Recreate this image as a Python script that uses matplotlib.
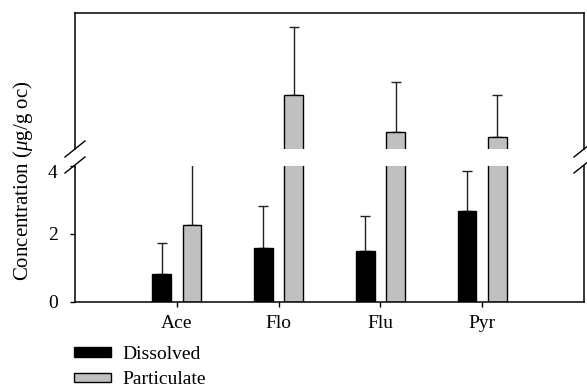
import numpy as np
import matplotlib.pyplot as plt
import matplotlib.transforms as mtransforms
from matplotlib.patches import Patch

plt.rcParams['font.family'] = ['Liberation Serif', 'DejaVu Serif']
plt.rcParams['mathtext.fontset'] = 'custom'
plt.rcParams['mathtext.it'] = 'Liberation Serif:italic'
plt.rcParams['mathtext.rm'] = 'Liberation Serif'

compounds = ['Ace', 'Flo', 'Flu', 'Pyr']
dissolved = [0.82, 1.58, 1.51, 2.69]
dissolved_err = [0.92, 1.25, 1.01, 1.17]
particulate = [2.26, 25.9, 15.1, 13.6]
particulate_err = [1.80, 20.0, 14.7, 12.4]

low_lim = (0, 4)
high_lim = (10, 50)

x = np.arange(1, len(compounds) + 1)
offset = 0.15
width = 0.185

fig = plt.figure(figsize=(5.87, 3.88), dpi=100)
left, right = 75 / 587, 584 / 587
ax_hi = fig.add_axes([left, 1 - 149 / 388, right - left, 136 / 388])
ax_lo = fig.add_axes([left, 1 - 302 / 388, right - left, 136 / 388])

for ax in (ax_hi, ax_lo):
    zeros = np.zeros(len(x))
    ax.errorbar(x - offset, dissolved, yerr=[zeros, dissolved_err], fmt='none',
                ecolor='#222222', elinewidth=1.0, capsize=3.6, capthick=1.0, zorder=1)
    ax.errorbar(x + offset, particulate, yerr=[zeros, particulate_err], fmt='none',
                ecolor='#222222', elinewidth=1.0, capsize=3.6, capthick=1.0, zorder=1)
    ax.bar(x - offset, dissolved, width, color='black', edgecolor='black',
           linewidth=1.0, zorder=2)
    ax.bar(x + offset, particulate, width, color='#c0c0c0', edgecolor='black',
           linewidth=1.0, zorder=2)
    ax.set_xlim(0, 5)
    for s in ax.spines.values():
        s.set_linewidth(1.1)

ax_hi.set_ylim(*high_lim)
ax_hi.spines['bottom'].set_visible(False)
ax_hi.set_xticks([])
ax_hi.set_yticks([])

ax_lo.set_ylim(*low_lim)
ax_lo.spines['top'].set_visible(False)
ax_lo.set_yticks([0, 2, 4])
ax_lo.set_xticks(x)
ax_lo.set_xticklabels(compounds)
ax_lo.tick_params(axis='both', direction='out', length=3.5, width=1.0,
                  labelsize=14)
ax_lo.tick_params(axis='y', pad=9)
ax_lo.tick_params(axis='x', pad=6)

# nudge the top label below the break marks
top_label = ax_lo.get_yticklabels()[-1]
top_label.set_transform(top_label.get_transform() +
                        mtransforms.ScaledTranslation(0, -6 / 100, fig.dpi_scale_trans))

# break marks on both sides of the axis gap
for xc in (75, 584):
    for yc in (149, 165):
        fig.add_artist(plt.Line2D([(xc - 10) / 587, (xc + 10) / 587],
                                  [1 - (yc + 8) / 388, 1 - (yc - 8) / 388],
                                  color='black', linewidth=1.0))

fig.text(23 / 587, 1 - 181 / 388, r'Concentration ($\mathit{\mu}$g/g oc)',
         rotation=90, ha='center', va='center', fontsize=15)

handles = [Patch(facecolor='black', edgecolor='black', linewidth=1.0),
           Patch(facecolor='#c0c0c0', edgecolor='black', linewidth=1.0)]
fig.legend(handles, ['Dissolved', 'Particulate'], loc='upper left',
           bbox_to_anchor=(74 / 587, 1 - 346 / 388), frameon=False, fontsize=14,
           handlelength=1.9, handleheight=0.35, handletextpad=0.6,
           labelspacing=0.42, borderpad=0, borderaxespad=0)

fig.savefig('out.png', dpi=100)
